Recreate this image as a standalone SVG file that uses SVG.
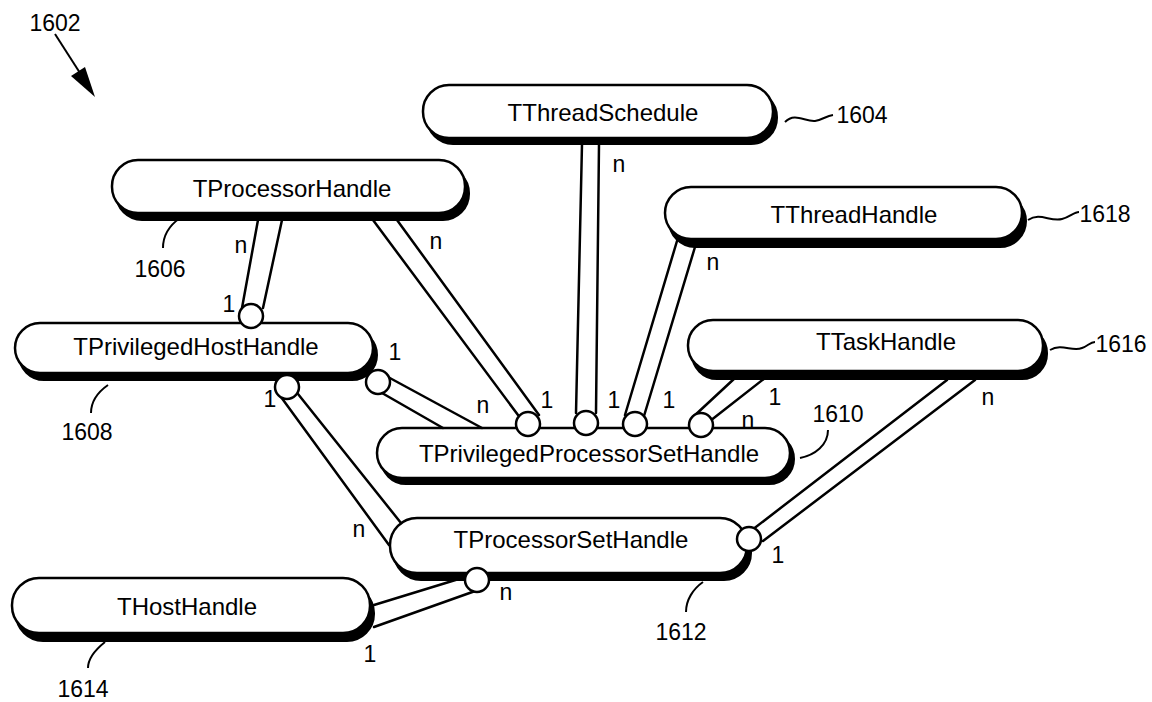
<svg xmlns="http://www.w3.org/2000/svg" width="1152" height="702" viewBox="0 0 1152 702">
<style>
.sh{fill:#000;stroke:#000;stroke-width:2}
.bd{fill:#fff;stroke:#000;stroke-width:2.5}
.lbl{font-family:"Liberation Sans",Arial,sans-serif;font-size:24px;text-anchor:middle;fill:#000}
.mult{font-family:"Liberation Sans",Arial,sans-serif;font-size:23px;text-anchor:middle;fill:#000}
.ref{font-family:"Liberation Sans",Arial,sans-serif;font-size:23px;text-anchor:middle;fill:#000}
.pipe{stroke:#000;stroke-width:2.5;fill:none;stroke-linecap:round}
.jn{fill:#fff;stroke:#000;stroke-width:2.5}
.lead{stroke:#000;stroke-width:2;fill:none}
</style>
<rect width="1152" height="702" fill="#fff"/>

<g id="nodes">
  <g id="TThreadSchedule">
    <rect class="sh" x="427" y="91" width="350" height="53" rx="26"/>
    <rect class="bd" x="423" y="85" width="350" height="53" rx="26"/>
    <text class="lbl" x="603" y="121">TThreadSchedule</text>
  </g>
  <g id="TProcessorHandle">
    <rect class="sh" x="116" y="167" width="353" height="53" rx="26"/>
    <rect class="bd" x="112" y="160" width="353" height="53" rx="26"/>
    <text class="lbl" x="292" y="197">TProcessorHandle</text>
  </g>
  <g id="TThreadHandle">
    <rect class="sh" x="669" y="195" width="357" height="52" rx="26"/>
    <rect class="bd" x="665" y="187" width="357" height="52" rx="26"/>
    <text class="lbl" x="854" y="223">TThreadHandle</text>
  </g>
  <g id="TTaskHandle">
    <rect class="sh" x="692" y="328" width="355" height="51" rx="25"/>
    <rect class="bd" x="688" y="320" width="355" height="51" rx="25"/>
    <text class="lbl" x="886" y="350">TTaskHandle</text>
  </g>
  <g id="TPrivilegedHostHandle">
    <rect class="sh" x="19" y="330" width="358" height="50" rx="25"/>
    <rect class="bd" x="15" y="323" width="358" height="50" rx="25"/>
    <text class="lbl" x="196" y="355">TPrivilegedHostHandle</text>
  </g>
  <g id="TPrivilegedProcessorSetHandle">
    <rect class="sh" x="381" y="434" width="413" height="50" rx="25"/>
    <rect class="bd" x="377" y="428" width="413" height="50" rx="25"/>
    <text class="lbl" x="589" y="462">TPrivilegedProcessorSetHandle</text>
  </g>
  <g id="TProcessorSetHandle">
    <rect class="sh" x="394" y="525" width="357" height="55" rx="27"/>
    <rect class="bd" x="390" y="518" width="357" height="55" rx="27"/>
    <text class="lbl" x="571" y="548">TProcessorSetHandle</text>
  </g>
  <g id="THostHandle">
    <rect class="sh" x="16" y="586" width="358" height="55" rx="27"/>
    <rect class="bd" x="12" y="578" width="358" height="55" rx="27"/>
    <text class="lbl" x="187" y="615">THostHandle</text>
  </g>
</g>

<g id="connectors">
  <g id="c-schedule-ppsh">
    <line class="pipe" x1="582" y1="144" x2="576" y2="413"/>
    <line class="pipe" x1="599" y1="144" x2="596" y2="413"/>
    <circle class="jn" cx="586" cy="423" r="12"/>
  </g>
  <g id="c-proc-ppsh">
    <line class="pipe" x1="373" y1="220" x2="518" y2="415"/>
    <line class="pipe" x1="397" y1="220" x2="539" y2="415"/>
    <circle class="jn" cx="528" cy="424" r="12"/>
  </g>
  <g id="c-thread-ppsh">
    <line class="pipe" x1="677" y1="241" x2="625" y2="415"/>
    <line class="pipe" x1="695" y1="247" x2="644" y2="416"/>
    <circle class="jn" cx="635" cy="424" r="12"/>
  </g>
  <g id="c-task-ppsh">
    <line class="pipe" x1="735" y1="378" x2="693" y2="417"/>
    <line class="pipe" x1="765" y1="378" x2="710" y2="421"/>
    <circle class="jn" cx="701" cy="425" r="12"/>
  </g>
  <g id="c-task-psh">
    <line class="pipe" x1="947" y1="380" x2="752" y2="530"/>
    <line class="pipe" x1="975" y1="380" x2="763" y2="541"/>
    <circle class="jn" cx="749" cy="539" r="12"/>
  </g>
  <g id="c-phh-ppsh">
    <line class="pipe" x1="388" y1="377" x2="482" y2="428"/>
    <line class="pipe" x1="382" y1="393" x2="443" y2="428"/>
    <circle class="jn" cx="378" cy="382" r="12"/>
  </g>
  <g id="c-proc-phh">
    <line class="pipe" x1="258" y1="220" x2="242" y2="308"/>
    <line class="pipe" x1="282" y1="220" x2="263" y2="308"/>
    <circle class="jn" cx="251" cy="316" r="12"/>
  </g>
  <g id="c-phh-psh">
    <line class="pipe" x1="281" y1="397" x2="389" y2="545"/>
    <line class="pipe" x1="298" y1="394" x2="401" y2="523"/>
    <circle class="jn" cx="287" cy="387" r="12"/>
  </g>
  <g id="c-host-psh">
    <line class="pipe" x1="374" y1="605" x2="462" y2="578"/>
    <line class="pipe" x1="374" y1="627" x2="478" y2="590"/>
    <circle class="jn" cx="477" cy="580" r="12"/>
  </g>
</g>

<g id="multiplicities">
  <text class="mult" x="241" y="253">n</text>
  <text class="mult" x="229" y="312">1</text>
  <text class="mult" x="436" y="249">n</text>
  <text class="mult" x="619" y="172">n</text>
  <text class="mult" x="713" y="270">n</text>
  <text class="mult" x="395" y="360">1</text>
  <text class="mult" x="483" y="413">n</text>
  <text class="mult" x="547" y="408">1</text>
  <text class="mult" x="614" y="408">1</text>
  <text class="mult" x="669" y="408">1</text>
  <text class="mult" x="775" y="405">1</text>
  <text class="mult" x="748" y="428">n</text>
  <text class="mult" x="988" y="405">n</text>
  <text class="mult" x="778" y="563">1</text>
  <text class="mult" x="270" y="407">1</text>
  <text class="mult" x="359" y="537">n</text>
  <text class="mult" x="506" y="600">n</text>
  <text class="mult" x="370" y="662">1</text>
</g>

<g id="references">
  <text class="ref" x="55" y="31">1602</text>
  <line class="lead" x1="55" y1="34" x2="80" y2="73" stroke-width="2.5"/>
  <polygon points="95,97 71,76 85,67" fill="#000"/>
  <path class="lead" d="M785,122 C795,112 805,122 815,121 C822,120 826,116 833,115"/>
  <text class="ref" x="862" y="123">1604</text>
  <path class="lead" d="M180,218 C170,225 163,235 163,248"/>
  <text class="ref" x="160" y="277">1606</text>
  <path class="lead" d="M1028,220 C1040,212 1050,222 1062,219 C1070,217 1074,212 1079,212"/>
  <text class="ref" x="1105" y="222">1618</text>
  <path class="lead" d="M1050,350 C1062,343 1072,352 1082,348 C1088,346 1090,342 1095,342"/>
  <text class="ref" x="1121" y="352">1616</text>
  <path class="lead" d="M108,385 C98,392 91,402 91,413"/>
  <text class="ref" x="87" y="440">1608</text>
  <path class="lead" d="M800,458 C815,455 828,445 828,430"/>
  <text class="ref" x="838" y="422">1610</text>
  <path class="lead" d="M703,582 C693,589 686,600 686,612"/>
  <text class="ref" x="681" y="640">1612</text>
  <path class="lead" d="M105,642 C95,650 88,658 88,668"/>
  <text class="ref" x="83" y="697">1614</text>
</g>
</svg>
